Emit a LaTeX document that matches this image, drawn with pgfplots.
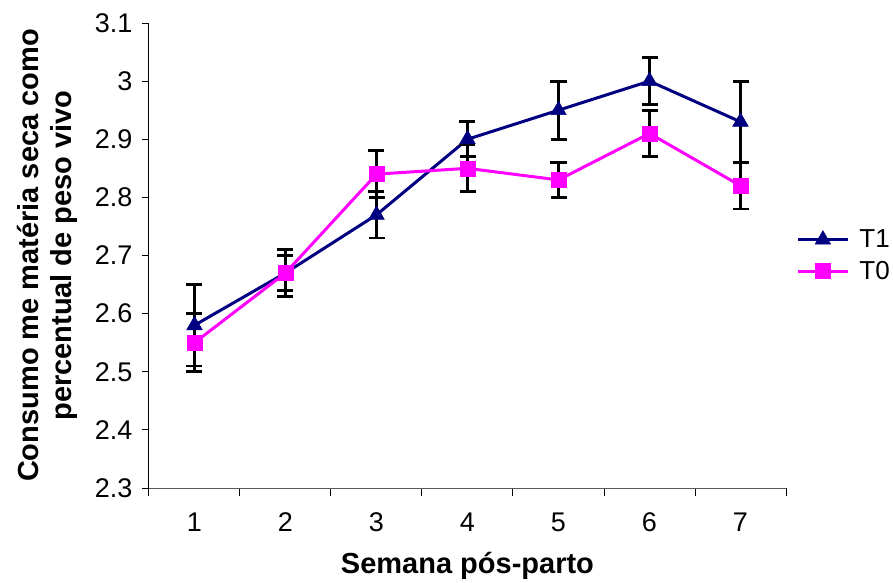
\documentclass[border=0pt]{standalone}
\usepackage{fontspec}
\setmainfont{Liberation Sans}
\usepackage{pgfplots}
\pgfplotsset{compat=1.18}
\definecolor{navyT}{RGB}{0,0,128}
\definecolor{magT}{RGB}{255,0,255}
\begin{document}
\begin{tikzpicture}
\useasboundingbox (-149pt,-94pt) rectangle (744pt,488pt);
\begin{axis}[
  at={(0pt,0pt)}, anchor=south west,
  scale only axis, width=637pt, height=465pt,
  xmin=0.5, xmax=7.5, ymin=2.3, ymax=3.1,
  axis lines*=left,
  axis line style={-},
  x axis line style={gray!70!black, line width=1pt},
  y axis line style={black, line width=1pt},
  xtick={1,...,7},
  major x tick style={draw=none},
  minor xtick={0.5,1.5,...,7.5},
  minor x tick style={black, line width=1pt},
  minor tick length=8pt,
  ytick={2.3,2.4,...,3.1},
  major y tick style={black, line width=1pt},
  major tick length=7pt,
  tick align=outside,
  /pgf/number format/assume math mode=true,
  tick label style={font=\fontsize{27}{31}\selectfont},
  yticklabel style={xshift=-6pt},
  xticklabel style={yshift=-14pt},
  xlabel={\bfseries Semana pós-parto},
  xlabel style={font=\fontsize{29}{33}\selectfont, at={(axis description cs:0.5,0)}, anchor=center, yshift=-78pt},
  ylabel={\bfseries Consumo me matéria seca como\\\bfseries percentual de peso vivo},
  ylabel style={font=\fontsize{29}{33}\selectfont, align=center, at={(axis description cs:0,0.5)}, anchor=center, rotate=0, yshift=102pt},
  legend style={at={(1.016,0.5)}, anchor=west, draw=none, fill=none,
    font=\fontsize{26}{30}\selectfont, row sep=10pt, inner sep=0pt,
    nodes={inner sep=1pt},
    /tikz/every odd column/.style={column sep=9pt}},
  legend cell align=left,
  legend image code/.code={\draw[mark repeat=2,mark phase=2] plot coordinates {(0pt,0pt) (25pt,0pt) (50pt,0pt)};},
  clip=false,
]
\addplot[navyT, line width=3pt, mark=triangle*, mark size=9pt, mark options={solid, fill=navyT, draw=navyT, line width=0.5pt},
  error bars/.cd, y dir=both, y explicit,
  error bar style={black, line width=2.8pt},
  error mark options={black, line width=2.8pt, mark size=8pt, rotate=90}]
  coordinates {
  (1,2.58) +- (0,0.07)
  (2,2.67) +- (0,0.04)
  (3,2.77) +- (0,0.04)
  (4,2.90) +- (0,0.03)
  (5,2.95) +- (0,0.05)
  (6,3.00) +- (0,0.04)
  (7,2.93) +- (0,0.07)
  };
\addlegendentry{T1}
\addplot[magT, line width=3pt, mark=square*, mark size=7.5pt, mark options={solid, fill=magT, draw=magT, line width=0.5pt},
  error bars/.cd, y dir=both, y explicit,
  error bar style={black, line width=2.8pt},
  error mark options={black, line width=2.8pt, mark size=8pt, rotate=90}]
  coordinates {
  (1,2.55) +- (0,0.05)
  (2,2.67) +- (0,0.03)
  (3,2.84) +- (0,0.04)
  (4,2.85) +- (0,0.04)
  (5,2.83) +- (0,0.03)
  (6,2.91) +- (0,0.04)
  (7,2.82) +- (0,0.04)
  };
\addlegendentry{T0}
\end{axis}
\end{tikzpicture}
\end{document}
